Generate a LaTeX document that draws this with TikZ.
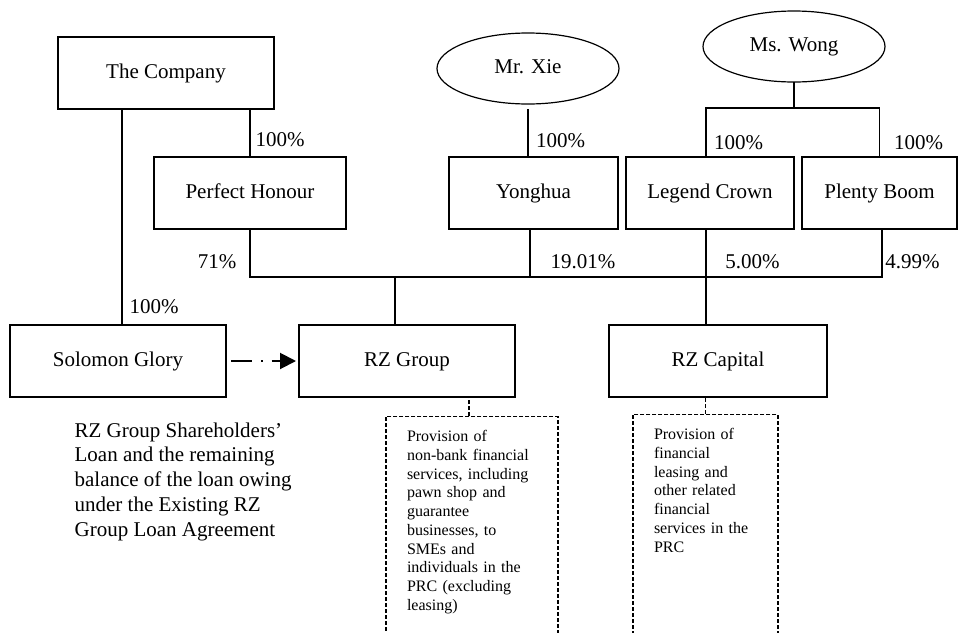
\documentclass[tikz,border=0pt]{standalone}
\usepackage{fontspec}
\setmainfont{Liberation Serif}
\usetikzlibrary{shapes.geometric}
\usetikzlibrary{positioning}
\usetikzlibrary{arrows.meta,calc}

\begin{document}
\begin{tikzpicture}[x=0.5pt,y=-0.5pt,
node distance = 4pt,
line width=0.6pt,
box/.style={rectangle,draw,minimum height=36pt,inner sep=0pt,outer sep=0pt,text height=0.7em,text depth=0.2em,font=\fontsize{10.5}{12.4}\selectfont},
owner/.style={ellipse,draw,minimum width=91pt,minimum height=35.5pt,inner sep=0pt,outer sep=0pt,text height=0.7em,text depth=0.2em,font=\fontsize{10.5}{12.4}\selectfont},
pct/.style={inner sep=0pt,text height=0.7em,text depth=0.2em,font=\fontsize{10.5}{12.4}\selectfont},
note/.style={align=left,inner sep=0pt,anchor=north west,font=\fontsize{10.5}{12.4}\selectfont},
link/.style={dash pattern=on 2pt off 1pt,line width=0.6pt},
biz/.style={rectangle,draw,link,anchor=north,align=left,text width=#1,inner xsep=10.5pt,inner ysep=7pt,text depth=150pt,font=\fontsize{8}{9.35}\selectfont},
loan/.style={-{Triangle[length=8pt,width=8pt]},dash pattern=on 10.5pt off 4.5pt on 0.8pt off 4.5pt,line width=1pt}]
\useasboundingbox (0,0) rectangle (958,632);

% holding companies
\node [box,minimum width=108pt] (comp) at (166,73) {The Company};
\node [box,minimum width=96pt] (ph) at (250,193) {Perfect Honour};
\node [box,minimum width=84.5pt] (yh) at (533.5,193) {Yonghua};
\node [box,minimum width=84pt] (lc) [right = of yh] {Legend Crown};
\node [box,minimum width=77.5pt] (pb) [right = of lc] {Plenty Boom};
\node [owner] (xie) at (528,68.5) {Mr. Xie};
\node [owner] (wong) at (794,46.5) {Ms. Wong};

% operating level
\node [box,minimum width=108pt] (sg) at (118,361) {Solomon Glory};
\node [box,minimum width=108pt] (rzg) at (407,361) {RZ Group};
\node [box,minimum width=109pt] (rzc) at (718,361) {RZ Capital};

\node [note] (loannote) at (74,422) {RZ Group Shareholders'\\Loan and the remaining\\balance of the loan owing\\under the Existing RZ\\Group Loan Agreement};

\node [biz=65pt] (d1) at (472,416) {Provision of\\non-bank financial\\services, including\\pawn shop and\\guarantee\\businesses, to\\SMEs and\\individuals in the\\PRC (excluding\\leasing)};
\node [biz=51.5pt] (d2) at (705.5,414) {Provision of\\financial\\leasing and\\other related\\financial\\services in the\\PRC};

% connectors
\coordinate (wj) at (794,108);
\coordinate (bus) at (395,277);
\coordinate (sgtop) at ([xshift=2pt]sg.north);
\coordinate (lctop) at ([xshift=-2pt]lc.north);
\coordinate (yhbot) at ([xshift=-1.75pt]yh.south);
\coordinate (lcbot) at ([xshift=-2pt]lc.south);
\coordinate (pbbot) at ([xshift=1.25pt]pb.south);
\coordinate (rzgtop) at ([xshift=-6pt]rzg.north);
\coordinate (rzctop) at ([xshift=-6pt]rzc.north);
\coordinate (d1top) at ([xshift=-1.5pt]d1.north);

\draw (sgtop) -- (sgtop |- comp.south);
\draw (ph.north) -- (ph.north |- comp.south);
\draw [shorten <=2.5pt] (xie.south) -- (xie.south |- yh.north);
\draw (wong.south) -- (wj);
\draw (lctop) |- (wj) -| (pb.north);
\draw (ph.south) |- (pbbot |- bus) -- (pbbot);
\draw (yhbot) -- (yhbot |- bus);
\draw (rzgtop) -- (rzgtop |- bus);
\draw (lcbot) -- (rzctop);
\draw [loan,shorten <=2.5pt,shorten >=1.5pt] (sg.east) -- (rzg.west);
\draw [link] (d1top) -- (d1top |- rzg.south);
\draw [link] (d2.north) -- (d2.north |- rzc.south);

% shareholdings
\node [pct] (p1) at (280,141) {100\%};
\node [pct] (p2) at (217,263) {71\%};
\node [pct] (p3) at (154,308) {100\%};
\node [pct] (p4) at (560.5,142) {100\%};
\node [pct] (p5) at (738.5,144) {100\%};
\node [pct] (p6) at (918.5,144) {100\%};
\node [pct] (p7) at (583,263) {19.01\%};
\node [pct] (p8) at (752.5,263) {5.00\%};
\node [pct] (p9) at (912.5,263) {4.99\%};
\end{tikzpicture}
\end{document}
